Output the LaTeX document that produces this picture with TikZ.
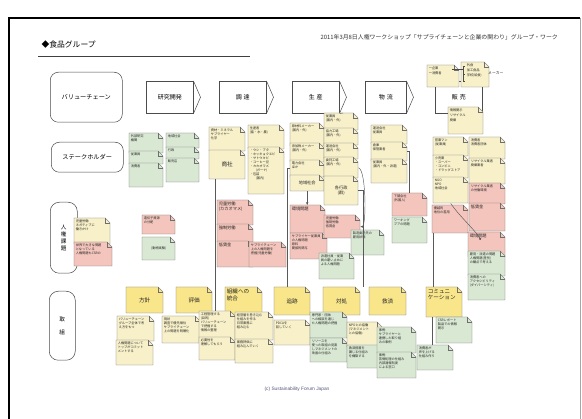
\documentclass[tikz,border=0pt]{standalone}
\usepackage{fontspec}
\setmainfont{Noto Sans CJK JP}
\newfontfamily\latinsans{Liberation Sans}
\usetikzlibrary{arrows.meta}
\definecolor{cream}{HTML}{F7F0C9}
\definecolor{ngreen}{HTML}{D9E8D3}
\definecolor{npink}{HTML}{F3C5BC}
\definecolor{nyellow}{HTML}{F9E68B}
\definecolor{edgegray}{HTML}{6E6E6E}
\definecolor{footblue}{HTML}{55597A}
\newcommand\notesz{\fontsize{3.2pt}{3.9pt}\selectfont}
\newcommand\smsz{\fontsize{4.2pt}{5pt}\selectfont}
\newcommand\midsz{\fontsize{5.6pt}{6.6pt}\selectfont}
\tikzset{
  notedraw/.style={draw=edgegray, line width=0.35pt},
  notebox/.style={inner sep=0.5pt, align=center, text=black!85},
  notetext/.style={inner sep=0pt, align=left, text=black!85},
  conn/.style={draw=black!65, line width=0.45pt},
  rowlab/.style={draw=black!70, line width=0.5pt, rounded corners=6pt, align=center,
    font=\fontsize{6.2pt}{7.5pt}\selectfont, inner sep=0pt, anchor=north west},
  vcstage/.style={draw=black!70, line width=0.5pt, font=\fontsize{6pt}{7pt}\selectfont,
    inner sep=0pt, anchor=north west, minimum height=32pt},
  vcline/.style={draw=black!70, line width=0.5pt},
}
% background of a sticky note: x y w h colour
\newcommand\notebg[5]{%
  \filldraw[notedraw, fill=#5] (#1,#2) -- ({#1+#3-5},#2) -- ({#1+#3},{#2+5}) -- ({#1+#3},{#2+#4}) -- (#1,{#2+#4}) -- cycle;
  \draw[notedraw] ({#1+#3-5},#2) -- ({#1+#3-5},{#2+5}) -- ({#1+#3},{#2+5});}
% note with text at top left: [font] name x y w h colour text
\newcommand\snote[8][\notesz]{%
  \notebg{#3}{#4}{#5}{#6}{#7}
  \node[notebox, minimum width=#5pt, minimum height=#6pt, anchor=north west] (#2) at (#3,#4) {};
  \node[notetext, font=#1, anchor=north west] (#2t) at ([xshift=1.6pt,yshift=-1.8pt]#2.north west) {#8};}
% note with centred text
\newcommand\cnote[8][\midsz]{%
  \notebg{#3}{#4}{#5}{#6}{#7}
  \node[notebox, font=#1, minimum width=#5pt, minimum height=#6pt, anchor=north west] (#2) at (#3,#4) {#8};}

\begin{document}
\begin{tikzpicture}[x=1pt,y=-1pt]
\useasboundingbox (0,0) rectangle (582,419);
\fill[white] (0,0) rectangle (582,419);
% frame
\draw[line width=1.4pt] (9,419) -- (9,18) -- (580,18);
\draw[line width=0.4pt, black!35] (580,18) -- (580,419);
% titles
\node[anchor=west, font=\fontsize{7.8pt}{8pt}\selectfont] (title) at (38,45) {◆食品グループ};
\draw[line width=0.5pt, black!75] (38,56) -- (250,56);
\node[anchor=west, font=\fontsize{5.9pt}{6.5pt}\selectfont, text=black!80] (hdr) at (317,37)
  {2011年3月8日人権ワークショップ「サプライチェーンと企業の関わり」グループ・ワーク};

% row labels
\node[rowlab, minimum width=72pt, minimum height=50pt, rounded corners=8pt] (rvc) at (50,72) {バリューチェーン};
\node[rowlab, minimum width=72pt, minimum height=30pt, rounded corners=8pt] (rsh) at (51,142) {ステークホルダー};
\node[rowlab, minimum width=27pt, minimum height=71pt, rounded corners=9pt, font=\fontsize{5.6pt}{7pt}\selectfont] (rhr) at (50,202) {人\\権\\課\\題};
\node[rowlab, minimum width=26pt, minimum height=69pt, rounded corners=9pt, font=\fontsize{5.6pt}{7pt}\selectfont] (rtk) at (49,291) {取\\[6pt]組};

% value chain
\node[vcstage, minimum width=47pt] (kk) at (146,81) {研究開発};
\draw[vcline] (kk.north east) -- ([xshift=7pt]kk.east) -- (kk.south east);
\node[vcstage, minimum width=47pt] (cho) at (219,81) {調\hspace{2pt}達};
\draw[vcline] (cho.north east) -- ([xshift=7pt]cho.east) -- (cho.south east);
\node[vcstage, minimum width=47pt] (sei) at (292,81) {生\hspace{2pt}産};
\draw[vcline] (sei.north east) -- ([xshift=7pt]sei.east) -- (sei.south east);
\node[vcstage, minimum width=41pt] (bu) at (365,81) {物\hspace{2pt}流};
\draw[vcline] (bu.north east) -- ([xshift=7pt]bu.east) -- (bu.south east);
\node[vcstage, minimum width=47pt] (han) at (435,81) {販\hspace{2pt}売};

% above sales
\snote[\notesz]{wa}{427}{65}{32}{22}{cream}{一企業\\[1pt]一消費者};
\snote[\notesz]{wb}{461}{62}{28}{25}{cream}{\hspace{4pt}外食\\[1pt]\hspace{4pt}加工食品\\[1pt]\hspace{4pt}学校(給食)};
\node[notetext, font=\fontsize{3.8pt}{4pt}\selectfont, anchor=west] (wm) at (488,73.3) {メーカー};
\draw[black!70, line width=0.35pt] (452,69) -- (463,69) (463,66.5) -- (463,81.5)
  (463,66.5) -- (465,66.5) (463,74) -- (465,74) (463,81.5) -- (465,81.5);
\snote[\notesz]{wc}{448}{107}{35}{27}{cream}{情報開示\\[1pt]リサイクル\\[1pt]廃棄};

% ---------------- stakeholders
\snote{sa1}{129}{133}{34}{20}{ngreen}{外部研究\\機関};
\snote{sa2}{129}{151}{34}{13}{ngreen}{従業員};
\snote{sa3}{129}{163}{34}{24}{ngreen}{消費者};
\snote{sb1}{166}{133}{33}{15}{ngreen}{地域社会};
\snote{sb2}{166}{147}{33}{12}{ngreen}{行政};
\snote{sb3}{166}{158}{33}{24}{ngreen}{販売店};

\snote{p1}{209}{127}{36}{24}{cream}{資材・ミネラル\\サプライヤー\\化学};
\cnote{p2}{209}{150}{36}{29}{cream}{商社};
\snote{p3}{248}{125}{36}{24}{cream}{生産者\\(畜・水・農)};
\snote{p4}{248}{147}{36}{47}{cream}{・ウシ・ブタ\\・ホッキョクエビ\\・サトウキビ\\・コーヒー豆\\・カカオマメ\\\hspace{6pt}(ガーナ)\\・包装\\\hspace{6pt}(国内)};

\snote{q1}{290}{123}{34}{23}{cream}{原材料メーカー\\(国内・外)};
\snote{q2}{290}{143}{34}{19}{cream}{添加物メーカー\\(国内・外)};
\snote{q3}{290}{160}{34}{17}{cream}{電力会社\\ほか};
\cnote[\smsz]{q4}{290}{175}{34}{16}{cream}{地域社会};
\snote{r1}{324}{113}{34}{17}{cream}{従業員\\(国内・外)};
\snote{r2}{324}{128}{34}{17}{cream}{協力工場\\(国内・外)};
\snote{r3}{324}{143}{34}{16}{cream}{運送会社\\(国内・外)};
\snote{r4}{324}{157}{34}{21}{cream}{委託工場\\(国内・外)};
\cnote[\smsz]{r5}{324}{176}{34}{29}{cream}{各行政\\(群)};

\snote{t1}{371}{125}{36}{19}{cream}{運送会社\\従業員};
\snote{t2}{371}{142}{36}{19}{cream}{倉庫\\保管業者};
\snote{t3}{371}{159}{36}{24}{cream}{従業員\\(国内・外・派遣)};

\snote{u1}{433}{137}{35}{19}{cream}{営業マン\\(従業員)};
\snote{u2}{433}{155}{35}{23}{cream}{小売業\\・スーパー\\・コンビニ\\・ドラッグストア};
\snote{u3}{433}{177}{35}{26}{cream}{NGO\\NPO\\地域社会};
\snote{v1}{469}{137}{36}{22}{cream}{消費者\\消費者団体};
\snote{v2}{469}{158}{36}{26}{cream}{リサイクル業者\\廃棄業者};

% ---------------- human rights issues
\snote{h1}{74}{218}{36}{26}{cream}{児童労働\\ネガティブに\\働きかけ};
\snote{h2}{74}{242}{38}{24}{npink}{世界で大きな問題\\となっている\\人権問題もCSRの};
\snote{h3}{142}{215}{33}{19}{npink}{遺伝子資源\\の分配};
\cnote[\notesz]{h4}{142}{237}{33}{23}{ngreen}{(動物実験)};
\snote[\smsz]{h5}{217}{200}{36}{25}{npink}{児童労働\\(カカオマメ)};
\snote[\smsz]{h6}{217}{224}{36}{18}{npink}{強制労働};
\snote[\smsz]{h7}{217}{241}{36}{26}{npink}{低賃金};
\snote{h8}{249}{242}{37}{25}{npink}{サプライチェーン\\上の人権問題を\\把握(児童労働)};
\snote[\smsz]{h9}{290}{205}{35}{28}{npink}{環境問題};
\snote{h10}{290}{233}{37}{26}{npink}{サプライヤー従業員\\の人権問題\\原料\\間接的関与};
\snote{h11}{324}{215}{36}{23}{npink}{児童労働\\強制労働\\低賃金};
\snote{h12}{351}{230}{33}{25}{ngreen}{製造委託先の\\雇用状態};
\snote{h13}{319}{253}{35}{26}{ngreen}{派遣社員・従業\\員の雇い止めに\\よる人権問題};
\snote{h14}{392}{193}{35}{23}{npink}{下請会社\\(外国人)};
\snote{h15}{392}{217}{35}{26}{ngreen}{ワーキング\\プアの問題};
\snote{h16}{432}{205}{36}{28}{npink}{優越的\\地位の濫用};
\snote{h17}{469}{183}{36}{21}{npink}{リサイクル業者\\の労働環境};
\snote[\smsz]{h18}{469}{203}{36}{28}{npink}{低賃金};
\snote[\smsz]{h19}{468}{232}{37}{25}{npink}{環境問題};
\snote{h20}{468}{251}{37}{25}{ngreen}{雇用・派遣の問題\\人権問題(差別)\\の観点で考える};
\snote{h21}{468}{274}{37}{26}{ngreen}{消費者への\\アクセシビリティ\\(ダイバーシティ)};

% ---------------- actions
\cnote{j1}{126}{287}{37}{26}{nyellow}{方針};
\cnote{j2}{176}{287}{36}{26}{nyellow}{評価};
\snote[\midsz]{j3}{225}{287}{37}{28}{nyellow}{組織への\\統合};
\cnote{j4}{274}{287}{36}{28}{nyellow}{追跡};
\cnote{j5}{323}{287}{37}{28}{nyellow}{対処};
\cnote{j6}{369}{287}{37}{28}{nyellow}{救済};
\snote[\midsz]{j7}{426}{287}{36}{30}{nyellow}{コミュニ\\ケーション};

\snote{k1}{117}{316}{37}{25}{cream}{バリューチェーン\\グループ全体で考\\え方をもつ};
\snote{k2}{116}{340}{37}{25}{cream}{人権問題について\\トップがコミット\\メントする};
\snote{k3}{162}{316}{38}{27}{cream}{現状\\調査で優先順位\\サプライチェーン\\上の問題を明確化};
\snote{k4}{199}{311}{36}{32}{cream}{工程管理する\\(目的)\\バリューチェーン\\で把握する\\情報の整理};
\snote{k5}{199}{337}{36}{23}{cream}{必要性を\\理解してもらう};
\snote{k6}{235}{312}{38}{28}{cream}{経営層を巻き込む\\仕組みを作る\\日常業務に\\組み込む};
\snote{k7}{235}{339}{38}{24}{cream}{業務評価に\\組み込んでいく};
\snote{k8}{274}{320}{36}{25}{cream}{PDCAを\\回していく};
\snote{k9}{310}{312}{37}{26}{ngreen}{専門家・団体\\への相談を通じ\\た人権問題の把握};
\snote{k10}{310}{338}{37}{24}{ngreen}{リソースを\\使った取組の見直\\しマネジメントの\\改善の仕組み};
\snote{k11}{347}{322}{35}{25}{cream}{NPOとの協働\\(マネジメント\\との協働)};
\snote{k12}{347}{345}{35}{23}{ngreen}{救済措置を\\講じる仕組み\\を構築する};
\snote{k13}{377}{327}{39}{26}{ngreen}{事例:\\サプライヤーと\\連携した取り組\\みの事例};
\snote{k14}{377}{352}{39}{26}{ngreen}{事例:\\苦情処理の仕組み\\内部通報制度\\による窓口};
\snote{k15}{436}{317}{36}{26}{ngreen}{CSRレポート\\製品での情報\\開示};
\snote{k16}{417}{345}{36}{25}{ngreen}{消費者が\\声を上げる\\仕組み作り};

% ---------------- connectors
\draw[conn] (sei.south east) -- ([xshift=2pt]r1.north);
\draw[conn] ([xshift=6pt]p2.south west) -- ([xshift=6pt]p2.south west |- k4.north);
\draw[conn] (q3.west) -- ([xshift=-3pt]q3.west) -- ([xshift=-3pt]q3.west |- j4.north);
\draw[conn, -{Stealth[length=3pt,width=2.4pt]}] (q4.south) -- (q4.south |- h9.north);
\draw[conn, -{Stealth[length=3pt,width=2.4pt]}] (r4.east) .. controls +(8,2) and +(6,0) .. (h11.east);
\draw[conn] (r5.east) -| ([xshift=3pt]j5.north east);
\draw[conn] (t2.east) -- ([xshift=2pt]t2.east) -- ([xshift=2pt]t2.east |- h14.north);
\draw[conn, -{Circle[length=2.2pt]}] (u3.south) .. controls +(8,12) and +(-6,-10) .. ([xshift=-6pt,yshift=5pt]h19.center);
\draw[conn] ([xshift=1pt]h16.south west) -- ([xshift=1pt]h16.south west |- j7.north);
\draw[conn] ([xshift=6pt]j7.south west) -- ([xshift=6pt]j7.south west |- k16.north);

% footer
\node[font=\latinsans\fontsize{4.8pt}{5.5pt}\selectfont, text=footblue] (foot) at (297,389) {(c) Sustainability Forum Japan};
\end{tikzpicture}
\end{document}
